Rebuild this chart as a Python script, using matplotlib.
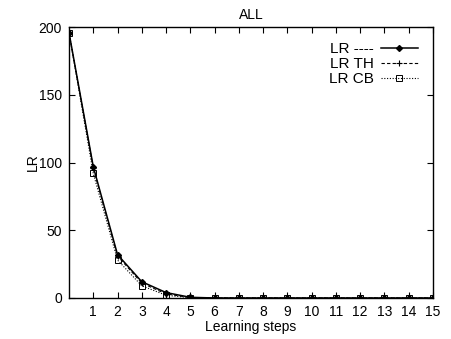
import matplotlib as mpl
import matplotlib.pyplot as plt

mpl.rcParams["font.family"] = ["Liberation Sans", "DejaVu Sans"]
mpl.rcParams["font.size"] = 10

steps = list(range(16))
lr = [196, 97, 32, 12, 4, 0.5, 0, 0, 0, 0, 0, 0, 0, 0, 0, 0]
lr_th = [196, 96, 31, 11, 3, 0.3, 0, 0, 0, 0, 0, 0, 0, 0, 0, 0]
lr_cb = [196, 92, 28, 9, 2, 0.2, 0, 0, 0, 0, 0, 0, 0, 0, 0, 0]
labels = ["LR ----", "LR TH", "LR CB"]

fig = plt.figure(figsize=(4.51, 3.39), dpi=100)
ax = fig.add_axes([0.153, 0.121, 0.807, 0.799])

ax.plot(steps, lr, color="black", lw=1.1, ls="-", marker="D", ms=3, label=labels[0])
ax.plot(steps, lr_th, color="black", lw=0.8, ls=(0, (3, 2)), marker="+", ms=4.5, mew=0.8, label=labels[1])
ax.plot(steps, lr_cb, color="black", lw=0.8, ls=(0, (1, 1.5)), marker="s", ms=4, mfc="none", mew=0.7, label=labels[2])

ax.set_xlim(0, 15)
ax.set_ylim(0, 200)
ax.set_xticks(range(1, 16))
ax.set_yticks(range(0, 201, 50))
ax.tick_params(direction="in", top=True, right=True, length=4, width=0.8, pad=5)
for s in ax.spines.values():
    s.set_linewidth(1.0)

ax.set_title("ALL", fontsize=10, pad=6)
ax.set_xlabel("Learning steps", labelpad=0.5)
ax.set_ylabel("LR", labelpad=-1)

ax.legend(loc="upper right", frameon=False, markerfirst=False, handlelength=2.4,
          handletextpad=0.5, labelspacing=0.05, borderaxespad=0.6, fontsize=11)

fig.savefig("out.png", dpi=100)
